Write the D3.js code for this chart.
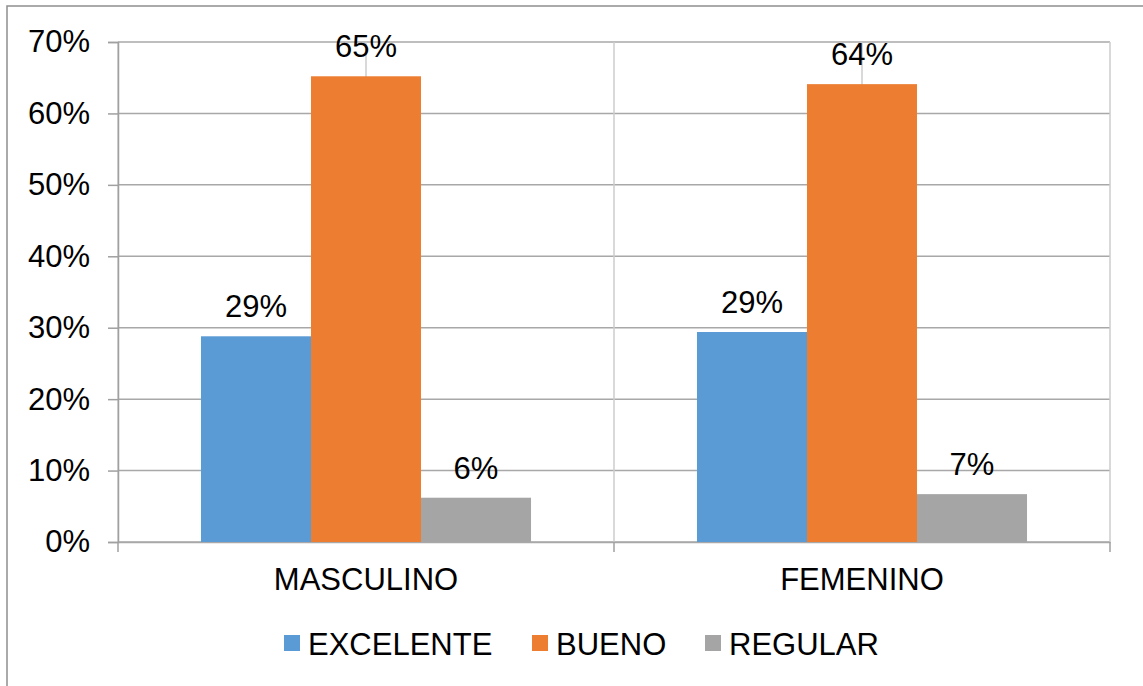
<!DOCTYPE html>
<html>
<head>
<meta charset="utf-8">
<script src="https://cdn.jsdelivr.net/npm/d3@7"></script>
<style>
  body { margin: 0; background: #fff; }
  text { font-family: "Liberation Sans", Arial, sans-serif; fill: #000; }
</style>
</head>
<body>
<div id="chart"></div>
<script>
// Data
var categories = ["MASCULINO", "FEMENINO"];
var series = ["EXCELENTE", "BUENO", "REGULAR"];
var excelente = [0.288, 0.294];
var bueno = [0.652, 0.641];
var regular = [0.062, 0.067];
var yTicks = [0, 0.1, 0.2, 0.3, 0.4, 0.5, 0.6, 0.7];
var colors = ["#5B9BD5", "#ED7D31", "#A5A5A5"];

var values = [excelente, bueno, regular];
var data = categories.map(function(c, i) {
  return { cat: c, vals: series.map(function(s, j) { return { key: s, value: values[j][i] }; }) };
});

var W = 1143, H = 686;
var margin = {top: 42, right: 33, bottom: 144, left: 118};
var width = W - margin.left - margin.right,
    height = H - margin.top - margin.bottom;

var svg = d3.select("#chart").append("svg")
  .attr("width", W).attr("height", H);

// outer chart border (left and top visible)
svg.append("rect")
  .attr("x", 7).attr("y", 6)
  .attr("width", W + 20).attr("height", H + 20)
  .attr("fill", "none").attr("stroke", "#8f8f8f").attr("stroke-width", 1.5);

var g = svg.append("g")
  .attr("transform", "translate(" + margin.left + "," + margin.top + ")");

var x = d3.scaleBand().domain(categories).range([0, width]).padding(0);
var y = d3.scaleLinear().domain([0, 0.7]).range([height, 0]);
var xSub = d3.scaleBand().domain(series)
  .range([x.bandwidth() * 0.1673, x.bandwidth() * 0.8327]).padding(0);
var color = d3.scaleOrdinal().domain(series).range(colors);

// horizontal gridlines
g.append("g").selectAll("line").data(yTicks).enter().append("line")
  .attr("x1", 0).attr("x2", width)
  .attr("y1", function(d) { return y(d); }).attr("y2", function(d) { return y(d); })
  .attr("stroke", "#a8a8a8").attr("stroke-width", 1.5);

// vertical gridlines: category boundaries and centers
var vlines = [];
categories.forEach(function(c) { vlines.push(x(c)); vlines.push(x(c) + x.bandwidth() / 2); });
vlines.push(width);
g.append("g").selectAll("line").data(vlines).enter().append("line")
  .attr("x1", function(d) { return d; }).attr("x2", function(d) { return d; })
  .attr("y1", 0).attr("y2", height)
  .attr("stroke", "#cccccc").attr("stroke-width", 1.5);

// y axis
var yAxis = g.append("g")
  .call(d3.axisLeft(y).tickValues(yTicks).tickFormat(d3.format(".0%")).tickSize(10).tickPadding(18));
yAxis.select(".domain").attr("stroke", "#a0a0a0").attr("stroke-width", 1.5);
yAxis.selectAll(".tick line").attr("stroke", "#a0a0a0").attr("stroke-width", 1.5);
yAxis.selectAll("text").style("font-size", "31px").attr("fill", "#000")
  .style("font-family", "Liberation Sans, Arial, sans-serif");

// x axis
var xAxis = g.append("g").attr("transform", "translate(0," + height + ")")
  .call(d3.axisBottom(x).tickSize(0).tickPadding(26));
xAxis.select(".domain").attr("stroke", "#a8a8a8").attr("stroke-width", 1.5);
xAxis.selectAll("text").style("font-size", "31px").attr("fill", "#000")
  .style("font-family", "Liberation Sans, Arial, sans-serif");
g.append("g").selectAll("line").data([0, x.bandwidth(), width]).enter().append("line")
  .attr("x1", function(d) { return d; }).attr("x2", function(d) { return d; })
  .attr("y1", height).attr("y2", height + 10)
  .attr("stroke", "#a0a0a0").attr("stroke-width", 1.5);

// bars
var groups = g.append("g").selectAll("g").data(data).enter().append("g")
  .attr("transform", function(d) { return "translate(" + x(d.cat) + ",0)"; });

groups.selectAll("rect").data(function(d) { return d.vals; }).enter().append("rect")
  .attr("x", function(d) { return xSub(d.key); })
  .attr("y", function(d) { return y(d.value); })
  .attr("width", xSub.bandwidth())
  .attr("height", function(d) { return height - y(d.value); })
  .attr("fill", function(d) { return color(d.key); });

groups.selectAll("text.lbl").data(function(d) { return d.vals; }).enter().append("text")
  .attr("class", "lbl")
  .attr("x", function(d) { return xSub(d.key) + xSub.bandwidth() / 2; })
  .attr("y", function(d) { return y(d.value) - 19; })
  .attr("text-anchor", "middle")
  .style("font-size", "31px")
  .text(function(d) { return d3.format(".0%")(d.value); });

// legend
var legendX = [284, 532, 705];
var legend = svg.append("g").selectAll("g").data(series).enter().append("g")
  .attr("transform", function(d, i) { return "translate(" + legendX[i] + ",635)"; });
legend.append("rect")
  .attr("width", 16).attr("height", 16)
  .attr("fill", function(d) { return color(d); });
legend.append("text")
  .attr("x", 24).attr("y", 19.5)
  .style("font-size", "31px")
  .text(function(d) { return d; });
</script>
</body>
</html>
